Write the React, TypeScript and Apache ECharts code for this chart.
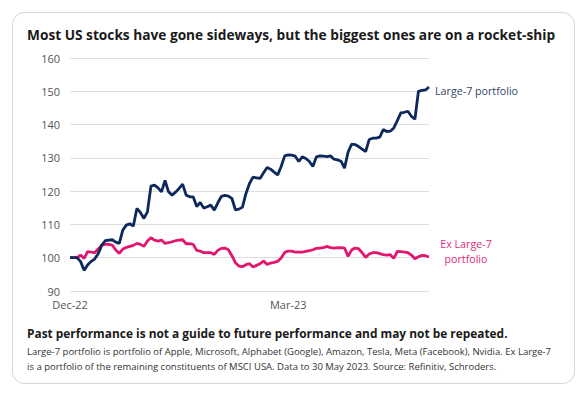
import React, { useEffect, useRef } from "react";
import * as echarts from "echarts";

// Trading-day categories (30 Dec 2022 – 30 May 2023)
const startDate = "2022-12-30";
const endDate = "2023-05-30";
const holidays = ["2023-01-02", "2023-01-16", "2023-02-20", "2023-04-07", "2023-05-29"];
const tickDates = ["2022-12-30", "2023-03-31"];
const tickLabels = ["Dec-22", "Mar-23"];

const yTicks = { min: 90, max: 160, interval: 10 };

const large7 = [
  100, 100, 100, 98.9, 96.2, 97.8, 98.9, 99.6, 101.2, 103.7,
  105.1, 105.3, 105.4, 104.7, 104.3, 108.3, 109.8, 110.2, 109.5, 114.8,
  113.6, 111.8, 113.8, 121.5, 121.8, 121.0, 119.8, 123.2, 119.8, 118.8,
  119.7, 120.8, 122.1, 118.8, 118.3, 118.3, 115.4, 116.6, 114.9, 115.3,
  115.8, 114.3, 116.5, 118.4, 118.7, 118.5, 117.8, 114.4, 114.6, 115.2,
  119.3, 122.3, 124.2, 124.0, 123.8, 125.5, 127.1, 126.6, 125.7, 124.9,
  127.4, 130.6, 130.9, 130.8, 130.5, 128.9, 130.3, 129.8, 128.9, 127.4,
  130.3, 130.6, 130.5, 130.4, 130.6, 129.6, 129.4, 129.0, 126.9, 131.7,
  134.1, 134.0, 133.4, 132.6, 131.9, 135.5, 135.9, 135.9, 136.2, 138.5,
  137.9, 138.0, 139.0, 141.2, 143.5, 143.7, 144.0, 142.5, 141.6, 150.0,
  150.3, 150.4, 151.3,
];

const exLarge7 = [
  100, 100, 100, 100.8, 99.8, 101.8, 101.7, 101.5, 102.6, 103.8,
  104.0, 104.0, 103.8, 102.3, 101.3, 102.6, 103.1, 103.4, 103.7, 104.3,
  104.0, 103.4, 105.0, 106.0, 105.3, 105.0, 105.3, 104.3, 104.5, 104.8,
  105.1, 105.3, 105.4, 104.2, 104.2, 104.0, 102.2, 102.0, 101.5, 101.5,
  101.5, 101.0, 102.2, 102.8, 102.9, 102.4, 100.6, 98.5, 97.5, 97.3,
  97.9, 98.2, 97.2, 97.7, 98.2, 99.0, 98.0, 98.4, 98.6, 98.9,
  99.9, 101.6, 102.0, 102.0, 101.7, 101.7, 101.7, 101.9, 102.1, 102.4,
  102.8, 102.9, 103.0, 103.4, 103.0, 102.9, 103.0, 103.0, 102.9, 100.4,
  102.3, 102.9, 102.7, 101.5, 100.1, 101.1, 101.5, 101.5, 101.2, 100.9,
  100.8, 100.9, 99.8, 101.9, 101.8, 101.7, 101.5, 100.8, 99.7, 100.3,
  100.7, 100.6, 100.2,
];

const titleText = "Most US stocks have gone sideways, but the biggest ones are on a rocket-ship";
const footBold = "Past performance is not a guide to future performance and may not be repeated.";
const footLine1 =
  "Large-7 portfolio is portfolio of Apple, Microsoft, Alphabet (Google), Amazon, Tesla, Meta (Facebook), Nvidia. Ex Large-7";
const footLine2 =
  "is a portfolio of the remaining constituents of MSCI USA. Data to 30 May 2023. Source: Refinitiv, Schroders.";
const seriesNames = ["Large-7 portfolio", "Ex Large-7 portfolio"];

function tradingDays(): string[] {
  const out: string[] = [];
  const d = new Date(startDate + "T00:00:00Z");
  const end = new Date(endDate + "T00:00:00Z");
  while (d <= end) {
    const s = d.toISOString().slice(0, 10);
    const wd = d.getUTCDay();
    if (wd !== 0 && wd !== 6 && !holidays.includes(s)) out.push(s);
    d.setUTCDate(d.getUTCDate() + 1);
  }
  return out;
}

const FONT = "'Open Sans', 'Noto Sans', sans-serif";
const NAVY = "#0c285c";
const PINK = "#e3166f";

export default function App() {
  const ref = useRef<HTMLDivElement>(null);
  useEffect(() => {
    document.body.style.margin = "0";
    if (!ref.current) return;
    const chart = echarts.init(ref.current, null, { renderer: "svg" });
    const cats = tradingDays();
    chart.setOption({
      animation: false,
      backgroundColor: "#ffffff",
      textStyle: { fontFamily: FONT },
      grid: { left: 70, right: 154, top: 58, bottom: 102 },
      xAxis: {
        type: "category",
        data: cats,
        boundaryGap: false,
        axisLine: { show: false },
        axisTick: { show: false },
        splitLine: { show: false },
        axisLabel: {
          interval: (_i: number, v: string) => tickDates.includes(v),
          formatter: (v: string) => tickLabels[tickDates.indexOf(v)] ?? "",
          color: "#555555",
          fontSize: 11,
          fontFamily: FONT,
          margin: 8,
        },
      },
      yAxis: {
        type: "value",
        min: yTicks.min,
        max: yTicks.max,
        interval: yTicks.interval,
        axisLine: { show: false },
        axisTick: { show: false },
        axisLabel: { color: "#555555", fontSize: 11, fontFamily: FONT, margin: 10 },
        splitLine: { lineStyle: { color: "#dedede", width: 1 } },
      },
      series: [
        {
          name: seriesNames[0],
          type: "line",
          data: large7,
          symbol: "none",
          lineStyle: { color: NAVY, width: 2.8 },
          z: 3,
        },
        {
          name: seriesNames[1],
          type: "line",
          data: exLarge7,
          symbol: "none",
          lineStyle: { color: PINK, width: 2.8 },
          z: 2,
        },
      ],
      graphic: [
        {
          type: "rect",
          z: -10,
          shape: { x: 12.5, y: 12.5, width: 562, height: 371, r: 12 },
          style: { fill: "#ffffff", stroke: "#d6d6d6", lineWidth: 1 },
          silent: true,
        },
        {
          type: "text",
          x: 27,
          y: 34,
          style: {
            text: titleText,
            font: `bold 13.7px ${FONT}`,
            fill: "#1a1a1a",
            verticalAlign: "middle",
          },
        },
        {
          type: "text",
          x: 435,
          y: 91,
          style: { text: seriesNames[0], font: `10.7px ${FONT}`, fill: "#33456b", verticalAlign: "middle" },
        },
        {
          type: "text",
          x: 466,
          y: 251,
          style: {
            text: "Ex Large-7\nportfolio",
            font: `10.7px ${FONT}`,
            fill: "#df2a7c",
            align: "center",
            verticalAlign: "middle",
            lineHeight: 15,
          },
        },
        {
          type: "text",
          x: 27,
          y: 333,
          style: { text: footBold, font: `bold 11.9px ${FONT}`, fill: "#1a1a1a", verticalAlign: "middle" },
        },
        {
          type: "text",
          x: 27,
          y: 351,
          style: { text: footLine1, font: `9.5px ${FONT}`, fill: "#333333", verticalAlign: "middle" },
        },
        {
          type: "text",
          x: 27,
          y: 366,
          style: { text: footLine2, font: `9.5px ${FONT}`, fill: "#333333", verticalAlign: "middle" },
        },
      ],
    });
    return () => chart.dispose();
  }, []);
  return <div ref={ref} style={{ width: 583, height: 393, position: "absolute", left: 0, top: 0 }} />;
}
